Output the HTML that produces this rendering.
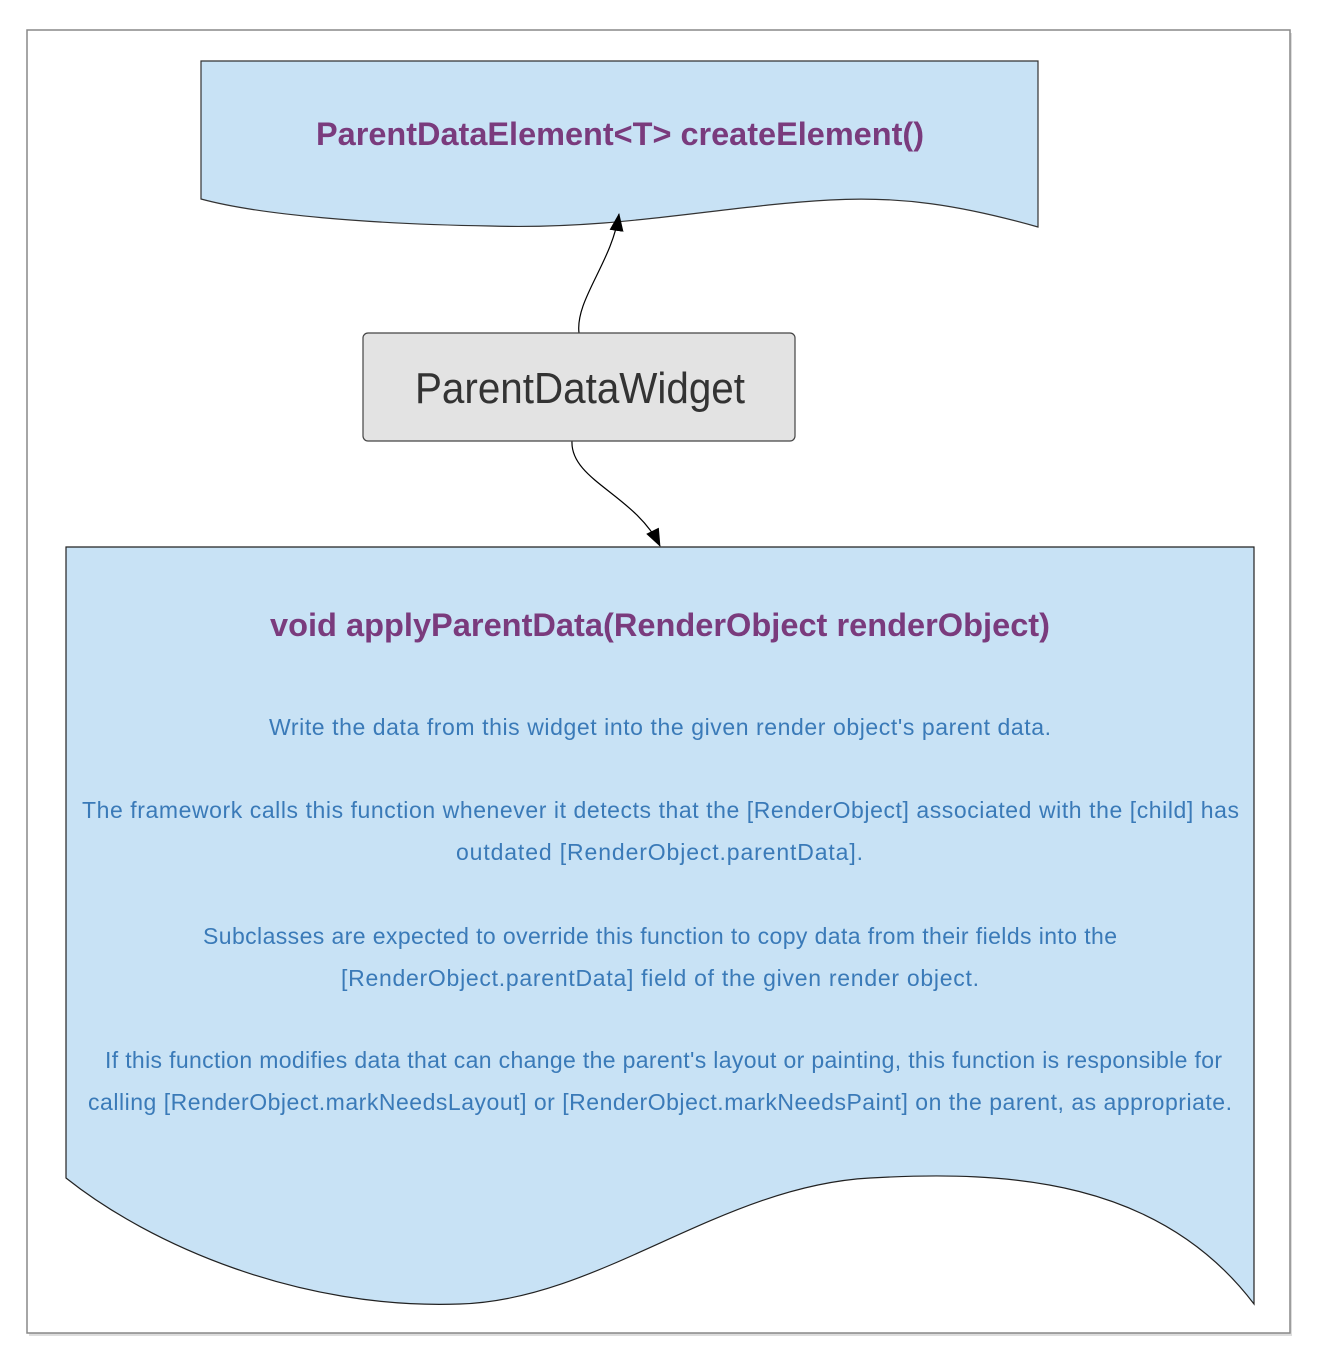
<!DOCTYPE html>
<html><head><meta charset="utf-8"><style>html,body{margin:0;padding:0;background:#fff}svg{display:block}</style></head>
<body>
<svg width="1330" height="1356" viewBox="0 0 1330 1356" xmlns="http://www.w3.org/2000/svg">
<defs>
<marker id="ah" markerWidth="18" markerHeight="14" refX="17" refY="7" orient="auto" markerUnits="userSpaceOnUse"><path d="M0,0 L18,7 L0,14 Z" fill="#000"/></marker>
</defs>
<rect x="29" y="33" width="1263" height="1303" fill="#ddd"/>
<rect x="27" y="30" width="1263" height="1303" fill="#fff" stroke="#888" stroke-width="1.5"/>
<path d="M201,61 L1038,61 L1038,227 C960,205 900,196 830,200 C720,206 620,230 490,226 C370,224 260,215 201,199 Z" fill="#c8e2f5" stroke="#333" stroke-width="1.2"/>
<text x="316" y="145" font-family="Liberation Sans, sans-serif" font-size="32" font-weight="bold" fill="#7a3b7d" textLength="608" lengthAdjust="spacingAndGlyphs">ParentDataElement&lt;T&gt; createElement()</text>
<path d="M579,333 C575,300 612,262 619,214" fill="none" stroke="#000" stroke-width="1.2" marker-end="url(#ah)"/>
<path d="M572,441 C570,480 635,495 660,546" fill="none" stroke="#000" stroke-width="1.2" marker-end="url(#ah)"/>
<rect x="363" y="333" width="432" height="108" rx="5" fill="#e3e3e3" stroke="#444" stroke-width="1.2"/>
<text x="415" y="403" font-family="Liberation Sans, sans-serif" font-size="44" fill="#333" textLength="330" lengthAdjust="spacingAndGlyphs">ParentDataWidget</text>
<path d="M66,547 L1254,547 L1254,1304 C1160,1180 1010,1170 870,1178 C720,1186 600,1300 460,1304 C300,1310 150,1245 66,1178 Z" fill="#c8e2f5" stroke="#222" stroke-width="1.2"/>
<text x="270" y="636" font-family="Liberation Sans, sans-serif" font-size="32" font-weight="bold" fill="#7a3b7d" textLength="780" lengthAdjust="spacingAndGlyphs">void applyParentData(RenderObject renderObject)</text>
<g font-family="Liberation Sans, sans-serif" font-size="23" fill="#3a7ab8" lengthAdjust="spacingAndGlyphs">
<text x="269" y="735" textLength="782">Write the data from this widget into the given render object's parent data.</text>
<text x="82" y="818" textLength="1157">The framework calls this function whenever it detects that the [RenderObject] associated with the [child] has</text>
<text x="456" y="860" textLength="407">outdated [RenderObject.parentData].</text>
<text x="203" y="944" textLength="914">Subclasses are expected to override this function to copy data from their fields into the</text>
<text x="341" y="986" textLength="638">[RenderObject.parentData] field of the given render object.</text>
<text x="105" y="1068" textLength="1117">If this function modifies data that can change the parent's layout or painting, this function is responsible for</text>
<text x="88" y="1110" textLength="1144">calling [RenderObject.markNeedsLayout] or [RenderObject.markNeedsPaint] on the parent, as appropriate.</text>
</g>
</svg>
</body></html>
